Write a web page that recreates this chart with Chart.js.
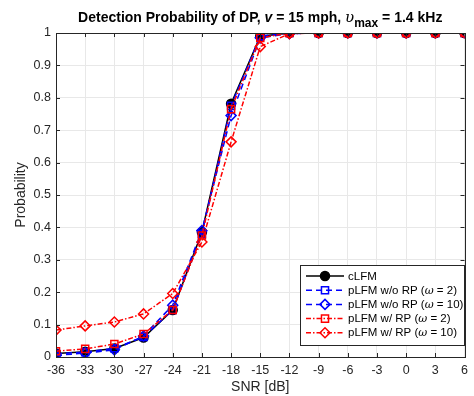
<!DOCTYPE html>
<html>
<head>
<meta charset="utf-8">
<script src="https://cdn.jsdelivr.net/npm/chart.js@4.4.1/dist/chart.umd.min.js"></script>
<style>
  body { margin: 0; background: #fff; }
  #wrap { width: 474px; height: 396px; }
</style>
</head>
<body>
<div id="wrap"><canvas id="myChart" width="474" height="396"></canvas></div>
<script>
// SNR points (dB)
var snr = [-36, -33, -30, -27, -24, -21, -18, -15, -12, -9, -6, -3, 0, 3, 6];

// detection probability per waveform
var cLFM      = [0.011, 0.016, 0.026, 0.060, 0.145, 0.385, 0.782, 0.990, 1, 1, 1, 1, 1, 1, 1];
var woRP_w2   = [0.010, 0.015, 0.027, 0.062, 0.145, 0.380, 0.775, 0.990, 1, 1, 1, 1, 1, 1, 1];
var woRP_w10  = [0.005, 0.012, 0.022, 0.065, 0.160, 0.390, 0.745, 0.985, 0.998, 1, 1, 1, 1, 1, 1];
var wRP_w2    = [0.018, 0.025, 0.040, 0.071, 0.145, 0.375, 0.765, 0.985, 1, 1, 1, 1, 1, 1, 1];
var wRP_w10   = [0.083, 0.096, 0.108, 0.133, 0.196, 0.355, 0.664, 0.958, 0.998, 1, 1, 1, 1, 1, 1];

var xTicks = [-36, -33, -30, -27, -24, -21, -18, -15, -12, -9, -6, -3, 0, 3, 6];
var yTicks = [0, 0.1, 0.2, 0.3, 0.4, 0.5, 0.6, 0.7, 0.8, 0.9, 1];

var FONT = 'Liberation Sans, Arial, sans-serif';

function pts(vals) {
  return vals.map(function (v, i) { return { x: snr[i], y: v }; });
}

function series(label, vals, color, style, dash, fill, order) {
  return {
    label: label,
    data: pts(vals),
    order: order,
    borderColor: color,
    backgroundColor: fill ? color : 'rgba(255,255,255,0)',
    borderWidth: 1.5,
    borderDash: dash,
    pointStyle: style,
    pointRadius: style === 'circle' ? 4.5 : 5,
    pointBorderColor: color,
    pointBackgroundColor: fill ? color : 'rgba(255,255,255,0)',
    pointBorderWidth: 1.5,
    tension: 0
  };
}

var legendText = [
  [['cLFM', false]],
  [['pLFM w/o RP (', false], ['\u03c9', true], [' = 2)', false]],
  [['pLFM w/o RP (', false], ['\u03c9', true], [' = 10)', false]],
  [['pLFM w/ RP (', false], ['\u03c9', true], [' = 2)', false]],
  [['pLFM w/ RP (', false], ['\u03c9', true], [' = 10)', false]]
];

// box, inward ticks, title and legend drawn by hand (matlab look)
var decor = {
  id: 'decor',
  afterDraw: function (chart) {
    var ctx = chart.ctx, a = chart.chartArea;
    var xs = chart.scales.x, ys = chart.scales.y;
    ctx.save();
    ctx.strokeStyle = '#262626';
    ctx.lineWidth = 1;
    ctx.strokeRect(Math.round(a.left) + 0.5, Math.round(a.top) + 0.5,
      Math.round(a.right - a.left), Math.round(a.bottom - a.top));
    ctx.beginPath();
    xTicks.forEach(function (t) {
      var px = Math.round(xs.getPixelForValue(t)) + 0.5;
      ctx.moveTo(px, a.bottom); ctx.lineTo(px, a.bottom - 4);
      ctx.moveTo(px, a.top); ctx.lineTo(px, a.top + 4);
    });
    yTicks.forEach(function (t) {
      var py = Math.round(ys.getPixelForValue(t)) + 0.5;
      ctx.moveTo(a.left, py); ctx.lineTo(a.left + 4, py);
      ctx.moveTo(a.right, py); ctx.lineTo(a.right - 4, py);
    });
    ctx.stroke();

    // title
    var parts = [
      ['Detection Probability of DP, ', 'bold 14px ' + FONT, 0],
      ['v', 'bold italic 14px ' + FONT, 0],
      [' = 15 mph, ', 'bold 14px ' + FONT, 0],
      ['\u03c5', 'italic 15px DejaVu Serif, serif', 0],
      ['max', 'bold 12px ' + FONT, 5],
      [' = 1.4 kHz', 'bold 14px ' + FONT, 0]
    ];
    var w = 0;
    parts.forEach(function (p) { ctx.font = p[1]; w += ctx.measureText(p[0]).width; });
    var x = (a.left + a.right) / 2 - w / 2;
    ctx.fillStyle = '#000';
    ctx.textBaseline = 'alphabetic';
    ctx.textAlign = 'left';
    parts.forEach(function (p) {
      ctx.font = p[1];
      ctx.fillText(p[0], x, 22 + p[2]);
      x += ctx.measureText(p[0]).width;
    });

    // legend
    var bx = 300.5, by = 265.5, bw = 164, bh = 80;
    ctx.fillStyle = '#fff';
    ctx.fillRect(bx, by, bw, bh);
    ctx.strokeStyle = '#262626';
    ctx.lineWidth = 1;
    ctx.strokeRect(bx, by, bw, bh);
    chart.data.datasets.forEach(function (ds, i) {
      var ly = 276 + i * 14.2;
      ctx.save();
      ctx.strokeStyle = ds.borderColor;
      ctx.lineWidth = ds.borderWidth;
      ctx.setLineDash(ds.borderDash || []);
      ctx.beginPath();
      ctx.moveTo(306, ly); ctx.lineTo(344, ly);
      ctx.stroke();
      ctx.setLineDash([]);
      ctx.fillStyle = ds.pointBackgroundColor;
      ctx.strokeStyle = ds.pointBorderColor;
      ctx.lineWidth = ds.pointBorderWidth;
      Chart.helpers.drawPoint(ctx, { pointStyle: ds.pointStyle, radius: ds.pointRadius, rotation: 0, borderWidth: ds.pointBorderWidth }, 325, ly);
      ctx.restore();
      var tx = 348;
      ctx.fillStyle = '#000';
      ctx.textBaseline = 'middle';
      legendText[i].forEach(function (seg) {
        ctx.font = (seg[1] ? 'italic 11px DejaVu Serif, serif' : '11.5px ' + FONT);
        ctx.fillText(seg[0], tx, ly + 0.5);
        tx += ctx.measureText(seg[0]).width;
      });
    });
    ctx.restore();
  }
};

var ctx = document.getElementById('myChart').getContext('2d');
var chart = new Chart(ctx, {
  type: 'line',
  data: {
    datasets: [
      series('cLFM', cLFM, '#000000', 'circle', [], true, 5),
      series('pLFM w/o RP (w = 2)', woRP_w2, '#0000ff', 'rect', [6, 4], false, 4),
      series('pLFM w/o RP (w = 10)', woRP_w10, '#0000ff', 'rectRot', [6, 4], false, 3),
      series('pLFM w/ RP (w = 2)', wRP_w2, '#ff0000', 'rect', [5, 2, 1.5, 2], false, 2),
      series('pLFM w/ RP (w = 10)', wRP_w10, '#ff0000', 'rectRot', [5, 2, 1.5, 2], false, 1)
    ]
  },
  options: {
    responsive: false,
    animation: false,
    layout: { padding: { left: 0, right: 6, top: 33, bottom: 0 } },
    plugins: { legend: { display: false }, title: { display: false }, tooltip: { enabled: false } },
    scales: {
      x: {
        type: 'linear',
        min: -36, max: 6,
        afterBuildTicks: function (s) { s.ticks = xTicks.map(function (v) { return { value: v }; }); },
        afterFit: function (s) { s.height = 39; },
        grid: { color: '#e8e8e8', tickLength: 0, drawTicks: false },
        border: { display: false },
        ticks: { color: '#262626', font: { family: FONT, size: 12.5 }, padding: 6, maxRotation: 0, autoSkip: false },
        title: { display: true, text: 'SNR [dB]', color: '#262626', font: { family: FONT, size: 14 }, padding: { top: 0, bottom: 0 } }
      },
      y: {
        min: 0, max: 1,
        afterBuildTicks: function (s) { s.ticks = yTicks.map(function (v) { return { value: v }; }); },
        afterFit: function (s) { s.width = 56; },
        grid: { color: '#e8e8e8', tickLength: 0, drawTicks: false },
        border: { display: false },
        ticks: { color: '#262626', font: { family: FONT, size: 12.5 }, padding: 5,
          callback: function (v) { return String(Math.round(v * 10) / 10); } },
        title: { display: true, text: 'Probability', color: '#262626', font: { family: FONT, size: 14 }, padding: { top: 13, bottom: 0 } }
      }
    }
  },
  plugins: [decor]
});
</script>
</body>
</html>
